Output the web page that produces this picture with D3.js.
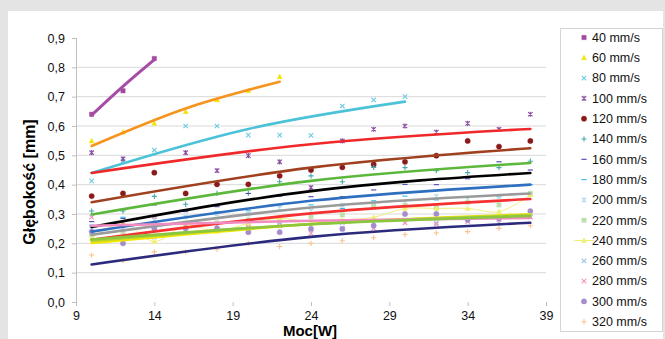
<!DOCTYPE html>
<html>
<head>
<meta charset="utf-8">
<script src="https://cdn.jsdelivr.net/npm/d3@7"></script>
<style>
  html, body { margin: 0; padding: 0; background: #e4e4e4; }
  svg { display: block; font-family: "Liberation Sans", Arial, sans-serif; }
</style>
</head>
<body>
<div id="chart"></div>
<script>
// Power [W] at which samples were measured
const power = [10, 12, 14, 16, 18, 20, 22, 24, 26, 28, 30, 32, 34, 36, 38];

// Scan speeds (legend labels)
const speeds = ['40 mm/s', '60 mm/s', '80 mm/s', '100 mm/s', '120 mm/s', '140 mm/s', '160 mm/s',
  '180 mm/s', '200 mm/s', '220 mm/s', '240 mm/s', '260 mm/s', '280 mm/s', '300 mm/s', '320 mm/s'];

// Measured depth [mm], one value per power step (null = not measured)
const d40  = [0.64, 0.72, 0.83];
const d60  = [0.549, 0.579, 0.609, 0.649, 0.689, 0.72, 0.768];
const d80  = [0.413, 0.48, 0.518, 0.60, 0.60, 0.569, 0.569, 0.568, 0.668, 0.689, 0.70];
const d100 = [0.509, 0.488, null, 0.509, 0.448, 0.499, 0.478, 0.39, 0.549, 0.589, 0.60, 0.579, 0.609, 0.589, 0.64];
const d120 = [0.361, 0.37, 0.441, 0.37, 0.401, 0.401, 0.43, 0.45, 0.459, 0.469, 0.478, 0.499, 0.549, 0.53, 0.549];
const d140 = [0.31, 0.31, 0.36, 0.333, 0.37, 0.37, 0.41, 0.43, 0.41, 0.459, 0.458, 0.448, 0.441, 0.458, 0.48];
const d160 = [0.274, 0.285, 0.331, 0.308, 0.325, 0.37, 0.361, 0.359, 0.359, 0.382, 0.401, 0.40, 0.42, 0.478, 0.45];
const d180 = [0.262, 0.289, 0.291, 0.311, 0.308, 0.311, 0.331, 0.331, 0.319, 0.345, 0.361, 0.348, 0.388, 0.361, 0.40];
const d200 = [0.235, 0.26, 0.28, 0.29, 0.30, 0.30, 0.32, 0.31, 0.33, 0.33, 0.34, 0.36, 0.35, 0.36, 0.37];
const d220 = [0.228, 0.24, 0.25, 0.269, 0.27, 0.28, 0.274, 0.291, 0.297, 0.327, 0.33, 0.321, 0.34, 0.331, 0.37];
const d240 = [0.217, 0.268, 0.206, 0.262, 0.24, 0.268, 0.285, 0.274, 0.28, 0.289, 0.319, 0.319, 0.319, 0.308, 0.365];
const d260 = [0.25, 0.25, 0.221, 0.24, 0.26, 0.25, 0.27, 0.26, 0.27, 0.27, 0.28, 0.27, 0.28, 0.27, 0.29];
const d280 = [0.289, 0.27, 0.291, 0.26, 0.25, 0.255, 0.26, 0.234, 0.25, 0.251, 0.27, 0.265, 0.274, 0.28, 0.29];
const d300 = [0.24, 0.20, 0.251, 0.251, 0.251, 0.238, 0.238, 0.249, 0.249, 0.26, 0.30, 0.30, 0.28, 0.285, 0.31];
const d320 = [0.16, 0.141, 0.171, 0.171, 0.18, 0.20, 0.189, 0.20, 0.209, 0.219, 0.23, 0.235, 0.24, 0.251, 0.26];

// Trend line depth read at first, middle and last measured power
const t40  = [0.637, 0.735, 0.826];
const t60  = [0.532, 0.66, 0.751];
const t80  = [0.44, 0.59, 0.683];
const t100 = [0.44, 0.538, 0.59];
const t120 = [0.34, 0.458, 0.524];
const t140 = [0.298, 0.413, 0.474];
const t160 = [0.256, 0.378, 0.44];
const t180 = [0.24, 0.345, 0.40];
const t200 = [0.229, 0.322, 0.37];
const t220 = [0.212, 0.302, 0.351];
const t240 = [0.201, 0.265, 0.299];
const t260 = [0.208, 0.266, 0.296];
const t280 = [0.26, 0.277, 0.287];
const t300 = [0.213, 0.265, 0.293];
const t320 = [0.128, 0.222, 0.27];

const yTicks = [0, 0.1, 0.2, 0.3, 0.4, 0.5, 0.6, 0.7, 0.8, 0.9];
const xTicks = [9, 14, 19, 24, 29, 34, 39];

const depths = [d40, d60, d80, d100, d120, d140, d160, d180, d200, d220, d240, d260, d280, d300, d320];
const trends = [t40, t60, t80, t100, t120, t140, t160, t180, t200, t220, t240, t260, t280, t300, t320];
const shapes = ['square', 'triangle', 'x', 'star', 'circle', 'plus', 'dash', 'dash', 'star', 'square',
  'triangle', 'x', 'x', 'circle', 'plus'];
const markerColors = ['#a0499f', '#f2e400', '#6ccbe0', '#8a4ea2', '#8a1a1a', '#4aa8ac', '#4848b0',
  '#3ab4e6', '#b4dcee', '#bde0ac', '#f0f070', '#a4c4e6', '#f490bc', '#a58ccc', '#f9c290'];
const trendColors = ['#a64ca6', '#f7941d', '#4cc2d8', '#f0282a', '#a0401f', '#5cb83c', '#000000',
  '#2f6fc0', '#9a9a9a', '#f53030', '#efe600', '#b8d430', '#f08cc0', '#8cc63f', '#2c2a7c'];

const svgWidth = 665, svgHeight = 339;

const svg = d3.select('#chart').append('svg')
  .attr('width', svgWidth)
  .attr('height', svgHeight);

// white chart panel
svg.append('rect').attr('x', 8).attr('y', 11).attr('width', 655).attr('height', 330).attr('fill', '#fff');

const x = d3.scaleLinear().domain([9, 39]).range([76, 546]);
const y = d3.scaleLinear().domain([0, 0.9]).range([302, 38]);

// gridlines (0,1 .. 0,8)
svg.append('g').selectAll('line')
  .data(yTicks.filter(d => d > 0 && d < 0.85))
  .join('line')
  .attr('x1', x(9)).attr('x2', x(39))
  .attr('y1', d => y(d)).attr('y2', d => y(d))
  .attr('stroke', '#d9d9d9').attr('stroke-width', 1);

// y axis
const yAxis = svg.append('g')
  .attr('transform', 'translate(' + x(9) + ',0)')
  .call(d3.axisLeft(y).tickValues(yTicks).tickSizeOuter(0).tickSize(4).tickPadding(7)
    .tickFormat(d => d.toFixed(1).replace('.', ',')));
yAxis.select('.domain').attr('stroke', '#bfbfbf').attr('d', 'M0.5,' + y(0.9) + 'V' + (y(0) + 3));
yAxis.selectAll('.tick line').attr('stroke', '#bfbfbf');
yAxis.selectAll('text').attr('font-size', 12.5).attr('fill', '#111').attr('font-family', null);

// x axis (ticks only)
const xAxis = svg.append('g')
  .attr('transform', 'translate(0,' + y(0) + ')')
  .call(d3.axisBottom(x).tickValues(xTicks).tickSizeOuter(0).tickSize(4).tickPadding(5));
xAxis.select('.domain').remove();
xAxis.selectAll('.tick line').attr('stroke', '#bfbfbf');
xAxis.selectAll('text').attr('font-size', 12.5).attr('fill', '#111').attr('font-family', null);

// axis titles
svg.append('text')
  .attr('transform', 'translate(35,182) rotate(-90)')
  .attr('text-anchor', 'middle')
  .attr('font-size', 16).attr('font-weight', 'bold')
  .text('Głębokość [mm]');
svg.append('text')
  .attr('x', 310).attr('y', 336)
  .attr('text-anchor', 'middle')
  .attr('font-size', 15).attr('font-weight', 'bold')
  .text('Moc[W]');

// marker paths
function marker(shape) {
  if (shape === 'square') return 'M-2.2,-2.2h4.4v4.4h-4.4z';
  if (shape === 'triangle') return 'M0,-2.7L2.5,2H-2.5Z';
  if (shape === 'circle') return d3.symbol(d3.symbolCircle, 22)();
  if (shape === 'x') return 'M-2.2,-2.2L2.2,2.2M-2.2,2.2L2.2,-2.2';
  if (shape === 'star') return 'M-2.2,-2.2L2.2,2.2M-2.2,2.2L2.2,-2.2M0,-2.6V2.6';
  if (shape === 'plus') return 'M-2.6,0H2.6M0,-2.6V2.6';
  return 'M-2.6,0H2.6';
}
function filled(shape) {
  return shape === 'square' || shape === 'triangle' || shape === 'circle';
}

const series = depths.map((vals, i) => ({
  name: speeds[i],
  points: vals.map((v, j) => ({ p: power[j], v: v })).filter(d => d.v !== null),
  shape: shapes[i],
  color: markerColors[i],
  trendColor: trendColors[i],
  trend: trends[i]
}));

// thin connecting line of the 240 mm/s series
const linkLine = d3.line().x(d => x(d.p)).y(d => y(d.v)).curve(d3.curveCatmullRom);
svg.append('path')
  .datum(series[10].points)
  .attr('d', linkLine)
  .attr('fill', 'none')
  .attr('stroke', '#f3ee7a')
  .attr('stroke-width', 1);

// markers
series.forEach(s => {
  svg.append('g').selectAll('path')
    .data(s.points)
    .join('path')
    .attr('transform', d => 'translate(' + x(d.p) + ',' + y(d.v) + ')')
    .attr('d', marker(s.shape))
    .attr('fill', filled(s.shape) ? s.color : 'none')
    .attr('stroke', s.color)
    .attr('stroke-width', filled(s.shape) ? 0.4 : 1.1);
});

// trend lines
const trendLine = d3.line().x(d => x(d[0])).y(d => y(d[1])).curve(d3.curveNatural);
series.forEach((s, i) => {
  const p0 = s.points[0].p;
  const p1 = s.points[s.points.length - 1].p;
  const pts = [[p0, s.trend[0]], [(p0 + p1) / 2, s.trend[1]], [p1, s.trend[2]]];
  svg.append('path')
    .datum(pts)
    .attr('d', trendLine)
    .attr('fill', 'none')
    .attr('stroke', s.trendColor)
    .attr('stroke-width', i === 0 ? 3 : 2.6)
    .attr('stroke-linecap', 'round');
});

// legend
const legend = svg.append('g');
legend.append('rect')
  .attr('x', 560.5).attr('y', 28.5).attr('width', 102).attr('height', 303)
  .attr('fill', '#fff').attr('stroke', '#d4d4d4');
const rows = legend.selectAll('g.row')
  .data(series)
  .join('g')
  .attr('class', 'row')
  .attr('transform', (d, i) => 'translate(584,' + (37.5 + i * 20.3) + ')');
rows.filter((d, i) => i === 10).append('line')
  .attr('x1', -10).attr('x2', 10)
  .attr('stroke', '#f3ee7a').attr('stroke-width', 1);
rows.append('path')
  .attr('d', d => marker(d.shape))
  .attr('fill', d => filled(d.shape) ? d.color : 'none')
  .attr('stroke', d => d.color)
  .attr('stroke-width', d => filled(d.shape) ? 0.4 : 1.1);
rows.append('text')
  .attr('x', 8).attr('dy', '0.35em')
  .attr('font-size', 12.5).attr('fill', '#111')
  .text(d => d.name);
</script>
</body>
</html>
